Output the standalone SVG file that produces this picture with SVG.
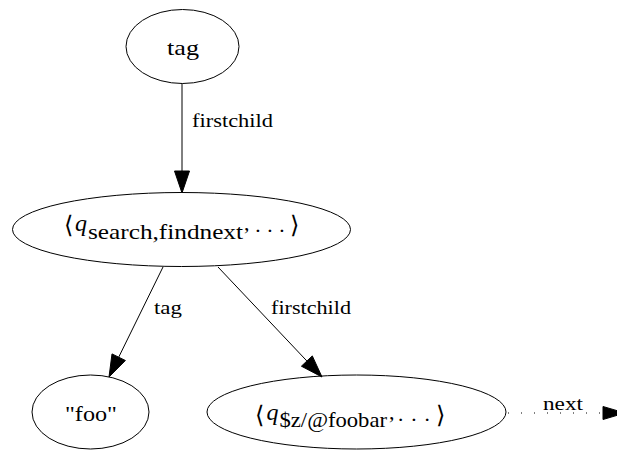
<svg xmlns="http://www.w3.org/2000/svg" width="617" height="450" viewBox="0 0 617 450">
  <style>
    .node ellipse { fill: none; stroke: #000; stroke-width: 1; }
    .nt { font-family: "Liberation Serif", "DejaVu Serif", serif; font-size: 22px; fill: #000; }
    .it { font-style: italic; font-size: 24px; }
    .br { font-family: "DejaVu Sans", "Liberation Serif", sans-serif; font-size: 24px; }
    .el { font-family: "Liberation Serif", "DejaVu Serif", serif; font-size: 18px; fill: #000; }
    .edge line { stroke: #000; stroke-width: 1; }
    .edge polygon { fill: #000; stroke: #000; stroke-width: 1; }
    .dotted { stroke-dasharray: 1 12; }
  </style>

  <rect width="617" height="450" fill="#fff"/>

  <!-- connectors -->
  <g id="edges">
    <g class="edge" id="e-tag-state">
      <line x1="182" y1="83.5" x2="182" y2="171"/>
      <polygon points="174.5,171 189.5,171 182,193"/>
      <text class="el" x="192" y="127" textLength="81" lengthAdjust="spacingAndGlyphs">firstchild</text>
    </g>
    <g class="edge" id="e-state-foo">
      <line x1="163" y1="267" x2="118.7" y2="357.2"/>
      <polygon points="125.4,360.5 112,353.9 109,377"/>
      <text class="el" x="154" y="314" textLength="28" lengthAdjust="spacingAndGlyphs">tag</text>
    </g>
    <g class="edge" id="e-state-attr">
      <line x1="218" y1="267" x2="306.9" y2="361"/>
      <polygon points="312.3,355.9 301.4,366.2 322,377"/>
      <text class="el" x="271" y="314" textLength="80" lengthAdjust="spacingAndGlyphs">firstchild</text>
    </g>
    <g class="edge" id="e-attr-next">
      <line class="dotted" x1="508" y1="413" x2="603" y2="413"/>
      <polygon points="603,406.5 603,419.5 625,413"/>
      <text class="el" x="543" y="410" textLength="40" lengthAdjust="spacingAndGlyphs">next</text>
    </g>
  </g>

  <!-- nodes -->
  <g class="node" id="n-tag">
    <ellipse cx="182.5" cy="46.5" rx="56.5" ry="37"/>
    <text class="nt" x="167" y="55" textLength="32" lengthAdjust="spacingAndGlyphs">tag</text>
  </g>

  <g class="node" id="n-state">
    <ellipse cx="181.5" cy="229.5" rx="169" ry="37"/>
    <text class="nt br" x="64" y="233">⟨</text>
    <text class="nt it" x="75" y="231">q</text>
    <text class="nt" x="88" y="239" textLength="155" lengthAdjust="spacingAndGlyphs">search,findnext</text>
    <text class="nt" x="244" y="230">,</text>
    <text class="nt" x="254.3" y="238">·</text>
    <text class="nt" x="266.3" y="238">·</text>
    <text class="nt" x="278.3" y="238">·</text>
    <text class="nt br" x="290" y="233">⟩</text>
  </g>

  <g class="node" id="n-foo">
    <ellipse cx="90.5" cy="412" rx="58.5" ry="37"/>
    <text class="nt" x="65" y="421" textLength="52" lengthAdjust="spacingAndGlyphs">"foo"</text>
  </g>

  <g class="node" id="n-attr">
    <ellipse cx="356.5" cy="412" rx="149.5" ry="37"/>
    <text class="nt br" x="255" y="423">⟨</text>
    <text class="nt it" x="266.5" y="420">q</text>
    <text class="nt" x="279.5" y="427" textLength="107.5" lengthAdjust="spacingAndGlyphs">$z/@foobar</text>
    <text class="nt" x="389" y="419">,</text>
    <text class="nt" x="397" y="427">·</text>
    <text class="nt" x="410.3" y="427">·</text>
    <text class="nt" x="423.6" y="427">·</text>
    <text class="nt br" x="436" y="423">⟩</text>
  </g>
</svg>
